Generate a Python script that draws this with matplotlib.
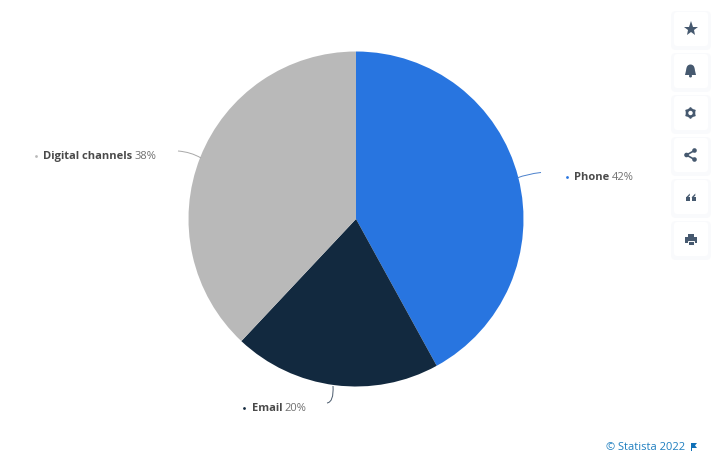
import matplotlib
matplotlib.use('Agg')
import matplotlib.pyplot as plt
from matplotlib.patches import FancyBboxPatch, PathPatch, Circle, Polygon, Rectangle
from matplotlib.path import Path

plt.rcParams['font.family'] = ['Open Sans', 'DejaVu Sans']

categories = ['Phone', 'Email', 'Digital channels']
shares = [42, 20, 38]
colors = ['#2875e0', '#12293f', '#b9b9b9']
source = '© Statista 2022'

W, H = 720, 458
ICON = '#46596f'

fig = plt.figure(figsize=(W / 100, H / 100), dpi=100, facecolor='white')

# pie sits in its own square axes, centre (356, 219) radius 167 px
cx, cy, r = 356, 219, 167.5
ax = fig.add_axes([(cx - r) / W, 1 - (cy + r) / H, 2 * r / W, 2 * r / H])
ax.pie(shares, colors=colors, startangle=90, counterclock=False, radius=1)
ax.set_xlim(-1, 1)
ax.set_ylim(-1, 1)
ax.axis('off')

# overlay in pixel coordinates for labels and sidebar
ov = fig.add_axes([0, 0, 1, 1])
ov.set_xlim(0, W)
ov.set_ylim(H, 0)
ov.axis('off')


def leader(p0, p1, p2, color):
    path = Path([p0, p1, p2], [Path.MOVETO, Path.CURVE3, Path.CURVE3])
    ov.add_patch(PathPatch(path, fc='none', ec=color, lw=0.7))


def label(name, pct, dot_x, name_x, pct_x, y, color):
    ov.plot([dot_x], [y], marker='o', ms=2, color=color, mew=0)
    ov.text(name_x, y + 0.8, name, fontsize=8, fontweight='bold', color='#4a4a4a', va='center', ha='left')
    ov.text(pct_x, y + 0.8, f'{pct}%', fontsize=8, color='#707070', va='center', ha='left')


leader((517, 178), (527, 174), (541, 172.5), '#4a80cc')
leader((201, 158), (191, 152), (178, 151), '#a8a8a8')
leader((333, 386), (334, 402), (327, 403), '#4a5a6c')

label(categories[0], shares[0], 567, 574, 612, 176.5, colors[0])
label(categories[1], shares[1], 244, 252, 284, 407.5, colors[1])
label(categories[2], shares[2], 36, 43, 135, 155.5, colors[2])

ov.text(605.5, 447, source, fontsize=8, color='#1f7fc0', va='center', ha='left')
ov.add_patch(Polygon([(691, 443), (697, 443), (695, 445.5), (697, 448), (692, 448), (692, 451), (691, 451)],
                     fc='#0f70b7', ec='none'))

# sidebar buttons, faint shadow then white card
centers = [29, 71, 113, 155, 197, 239]
for c in centers:
    ov.add_patch(FancyBboxPatch((671, c - 18), 40, 39, boxstyle='round,pad=0,rounding_size=5',
                                fc='#f9fafc', ec='none'))
    ov.add_patch(FancyBboxPatch((674, c - 17), 34, 34, boxstyle='round,pad=0,rounding_size=3',
                                fc='white', ec='none'))

bx = 690.5
# star
ov.plot([bx], [29], marker='*', ms=11, color=ICON, mew=0)
# bell
ov.add_patch(Circle((bx, 68.5), 4, fc=ICON, ec='none'))
ov.add_patch(Polygon([(bx - 4, 68.5), (bx + 4, 68.5), (bx + 5.5, 75), (bx - 5.5, 75)], fc=ICON, ec='none'))
ov.add_patch(Circle((bx, 76), 1.5, fc=ICON, ec='none'))
# gear
ov.add_patch(Circle((bx, 113), 4.8, fc=ICON, ec='none'))
for dx, dy in [(0, -4.6), (0, 4.6), (4, -2.3), (-4, -2.3), (4, 2.3), (-4, 2.3)]:
    ov.add_patch(Circle((bx + dx, 113 + dy), 1.2, fc=ICON, ec='none'))
ov.add_patch(Circle((bx, 113), 2.2, fc='white', ec='none'))
# share
for p in [(686.5, 155), (694.5, 150.5), (694.5, 159.5)]:
    ov.add_patch(Circle(p, 2.3, fc=ICON, ec='none'))
ov.add_patch(Polygon([(694.5, 150.5), (686.5, 155), (694.5, 159.5)], fc='none', ec=ICON, lw=1.2, closed=False))
# quote marks
for x0 in (686, 691.5):
    ov.add_patch(Rectangle((x0, 197), 4.2, 4, fc=ICON, ec='none'))
    ov.add_patch(Polygon([(x0, 197.5), (x0 + 3.8, 193.5), (x0 + 3.8, 195.5), (x0 + 1.8, 197.5)], fc=ICON, ec='none'))
# printer
ov.add_patch(Rectangle((687.5, 233.5), 6.5, 3.5, fc=ICON, ec='none'))
ov.add_patch(Rectangle((685, 237), 11.5, 6, fc=ICON, ec='none'))
ov.add_patch(Rectangle((687.5, 240.5), 6.5, 4, fc=ICON, ec='white', lw=0.7))

fig.savefig('out.png', dpi=100)
